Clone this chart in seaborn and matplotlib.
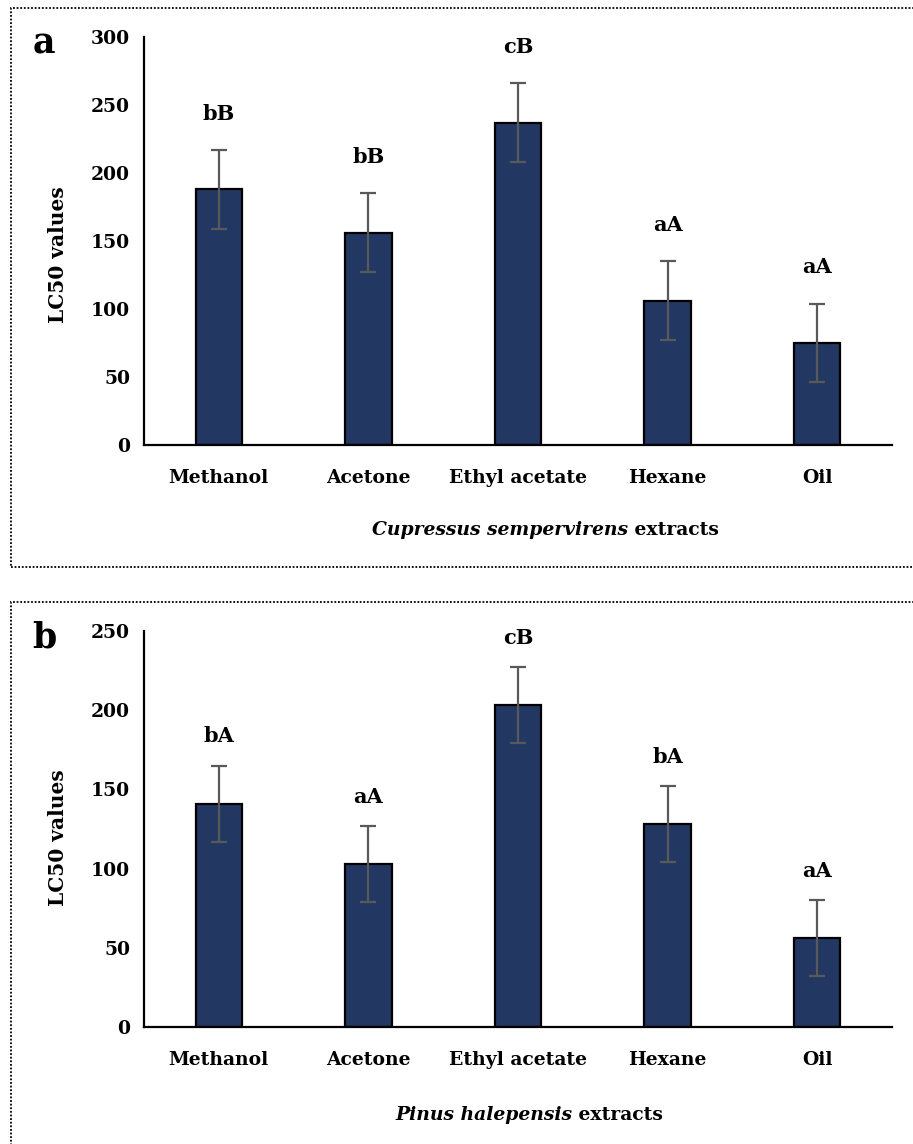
import numpy as np
import pandas as pd
import matplotlib
matplotlib.use("Agg")
import matplotlib.pyplot as plt
import seaborn as sns
from matplotlib.patches import Rectangle
from matplotlib.ticker import MultipleLocator

# ---------------- data ----------------
categories = ["Methanol", "Acetone", "Ethyl acetate", "Hexane", "Oil"]

cupressus_lc50 = [188, 156, 237, 106, 75]
cupressus_err = [29, 29, 29, 29, 29]
cupressus_letters = ["bB", "bB", "cB", "aA", "aA"]

pinus_lc50 = [141, 103, 203, 128, 56]
pinus_err = [24, 24, 24, 24, 24]
pinus_letters = ["bA", "aA", "cB", "bA", "aA"]

# ---------------- style ----------------
sns.set_style("white")
plt.rcParams['font.family'] = ['DejaVu Serif']
plt.rcParams['font.weight'] = 'bold'
plt.rcParams['text.color'] = 'black'
plt.rcParams['axes.labelcolor'] = 'black'
plt.rcParams['xtick.color'] = 'black'
plt.rcParams['ytick.color'] = 'black'

NAVY = "#223862"
ERR = "#595959"
W, H = 913, 1144
fig = plt.figure(figsize=(W / 100, H / 100), dpi=100)


def fx(px):
    return px / W


def fy(py):
    return 1 - py / H


panels = [
    dict(vals=cupressus_lc50, errs=cupressus_err, letters=cupressus_letters,
         ymax=300, top=37, bottom=445, tag="a", tag_y=43,
         species="Cupressus sempervirens", xl_x=545, xl_y=530,
         box=(11, 8, 567), ylab_y=255, off=26),
    dict(vals=pinus_lc50, errs=pinus_err, letters=pinus_letters,
         ymax=250, top=631, bottom=1027, tag="b", tag_y=637,
         species="Pinus halepensis", xl_x=529, xl_y=1115,
         box=(11, 602, 1160), ylab_y=838, off=21),
]

FS = 13.5
for p in panels:
    ax = fig.add_axes([fx(144), fy(p["bottom"]), fx(892) - fx(144),
                       (p["bottom"] - p["top"]) / H])
    df = pd.DataFrame({"extract": categories, "lc50": p["vals"]})
    sns.barplot(data=df, x="extract", y="lc50", color=NAVY, saturation=1,
                width=0.31, edgecolor="black", linewidth=1.6,
                errorbar=None, ax=ax)
    x = np.arange(len(categories))
    ax.errorbar(x, p["vals"], yerr=p["errs"], fmt="none", ecolor=ERR,
                elinewidth=1.6, capsize=6, capthick=1.6, zorder=5)
    for xi, v, e, lab in zip(x, p["vals"], p["errs"], p["letters"]):
        ax.annotate(lab, xy=(xi, v + e), xytext=(0, p["off"]),
                    textcoords="offset points", ha="center", va="center",
                    fontsize=15, fontweight="bold", color="black")
    ax.set_xlim(-0.5, len(categories) - 0.5)
    ax.set_ylim(0, p["ymax"])
    ax.yaxis.set_major_locator(MultipleLocator(50))
    ax.set_xticks(np.arange(-0.5, len(categories), 1), minor=True)
    ax.tick_params(axis="y", direction="out", length=6, width=1.6,
                   labelsize=FS, pad=4, colors="black")
    ax.tick_params(axis="x", which="major", length=0, labelsize=FS, pad=17,
                   colors="black")
    ax.tick_params(axis="x", which="minor", direction="in", length=6,
                   width=1.6, colors="black")
    for lbl in ax.get_xticklabels() + ax.get_yticklabels():
        lbl.set_fontweight("bold")
    ax.set_xlabel("")
    ax.set_ylabel("")
    for s in ["top", "right"]:
        ax.spines[s].set_visible(False)
    for s in ["left", "bottom"]:
        ax.spines[s].set_linewidth(1.6)
        ax.spines[s].set_color("black")

    fig.text(fx(58), fy(p["ylab_y"]), "LC50 values", rotation=90,
             ha="center", va="center", fontsize=14.5, fontweight="bold",
             color="black")
    fig.text(fx(44), fy(p["tag_y"]), p["tag"], ha="center", va="center",
             fontsize=25, fontweight="bold", color="black")

    # x label: italic species + regular "extracts"
    t1 = fig.text(fx(p["xl_x"]), fy(p["xl_y"]), p["species"], ha="left",
                  va="center", fontsize=13.5, fontweight="bold",
                  fontstyle="italic", color="black")
    t2 = fig.text(0, 0, " extracts", ha="left", va="center", fontsize=13.5,
                  fontweight="bold", color="black")
    p["t1"], p["t2"] = t1, t2

    x0, y0, y1 = p["box"]
    fig.patches.append(Rectangle((fx(x0), fy(y1)), fx(930) - fx(x0),
                                 (y1 - y0) / H, transform=fig.transFigure,
                                 fill=False, edgecolor="black", linewidth=1.3,
                                 linestyle=(0, (1, 1)), zorder=0))

fig.canvas.draw()
r = fig.canvas.get_renderer()
for p in panels:
    t1, t2 = p["t1"], p["t2"]
    w1 = t1.get_window_extent(r).width
    w2 = t2.get_window_extent(r).width
    start = p["xl_x"] - (w1 + w2) / 2
    t1.set_position((fx(start), fy(p["xl_y"])))
    t2.set_position((fx(start + w1), fy(p["xl_y"])))

fig.savefig("out.png", dpi=100)
